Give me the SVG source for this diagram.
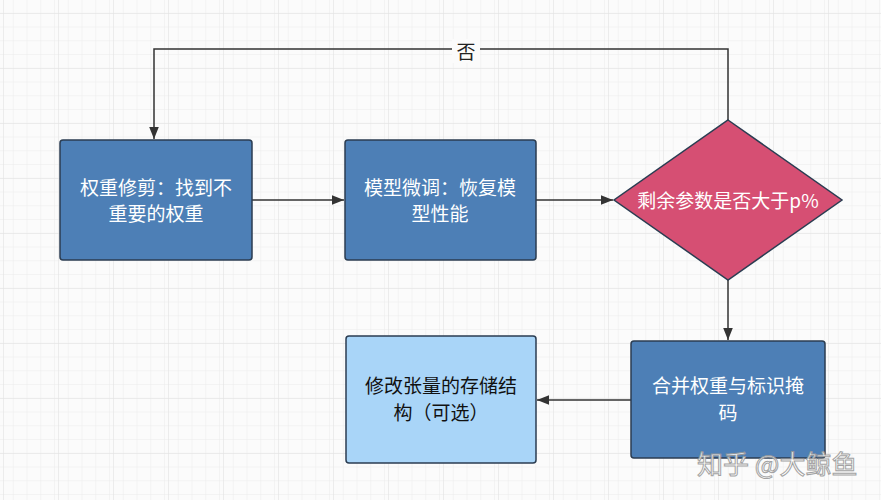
<svg xmlns="http://www.w3.org/2000/svg" width="881" height="500" viewBox="0 0 881 500">
<defs>
<pattern id="g" width="13.75" height="13.75" patternUnits="userSpaceOnUse"><path d="M13.75 0V13.75H0" fill="none" stroke="#ececec" stroke-width="1"/></pattern>
<pattern id="G" width="55" height="55" patternUnits="userSpaceOnUse" x="3" y="13"><path d="M0 0V55M0 0H55" fill="none" stroke="#e2e2e2" stroke-width="1.2"/></pattern>
<marker id="a" viewBox="0 0 10 10" refX="10" refY="5" markerWidth="8" markerHeight="8" orient="auto"><path d="M0 1L10 5L0 9Z" fill="#333"/></marker>
</defs>
<style>
.n{stroke:#2b3d52;stroke-width:1.5}
.t{font-family:"Noto Sans CJK SC","Noto Sans",sans-serif;font-size:19px;text-anchor:middle;fill:#fff}
.c{fill:none;stroke:#333;stroke-width:1.5;marker-end:url(#a)}
</style>
<rect width="881" height="500" fill="#fbfbfb"/>
<rect width="881" height="500" fill="url(#g)"/>
<rect width="881" height="500" fill="url(#G)"/>
<g id="connectors">
<path class="c" d="M728 120V49H154V139"/>
<rect x="452" y="39" width="28" height="24" fill="#fbfbfb"/>
<text x="466" y="59" class="t" style="fill:#222">否</text>
<path class="c" d="M252 200H344"/>
<path class="c" d="M536 200H613"/>
<path class="c" d="M728 280V340"/>
<path class="c" d="M631 400H537"/>
</g>
<g id="n1"><rect class="n" x="60" y="140" width="192" height="120" rx="3" fill="#4d7fb6"/><text class="t" x="156" y="195">权重修剪：找到不</text><text class="t" x="156" y="221">重要的权重</text></g>
<g id="n2"><rect class="n" x="345" y="140" width="191" height="120" rx="3" fill="#4d7fb6"/><text class="t" x="440" y="195">模型微调：恢复模</text><text class="t" x="440" y="221">型性能</text></g>
<g id="n3"><path class="n" d="M728 120L842 200L728 280L614 200Z" fill="#d64f73"/><text class="t" x="728" y="208">剩余参数是否大于p%</text></g>
<g id="n4"><rect class="n" x="631" y="341" width="194" height="117" rx="3" fill="#4d7fb6"/><text class="t" x="728" y="393">合并权重与标识掩</text><text class="t" x="728" y="420">码</text></g>
<g id="n5"><rect class="n" x="346" y="336" width="190" height="127" rx="3" fill="#a9d5f8"/><text class="t" x="441" y="393" style="fill:#111">修改张量的存储结</text><text class="t" x="441" y="420" style="fill:#111">构（可选）</text></g>
<text x="697" y="474" style="font-family:'Noto Sans CJK SC',sans-serif;font-size:26px;fill:#fff;stroke:#999;stroke-width:1;opacity:0.9">知乎 @大鲸鱼</text>
</svg>
